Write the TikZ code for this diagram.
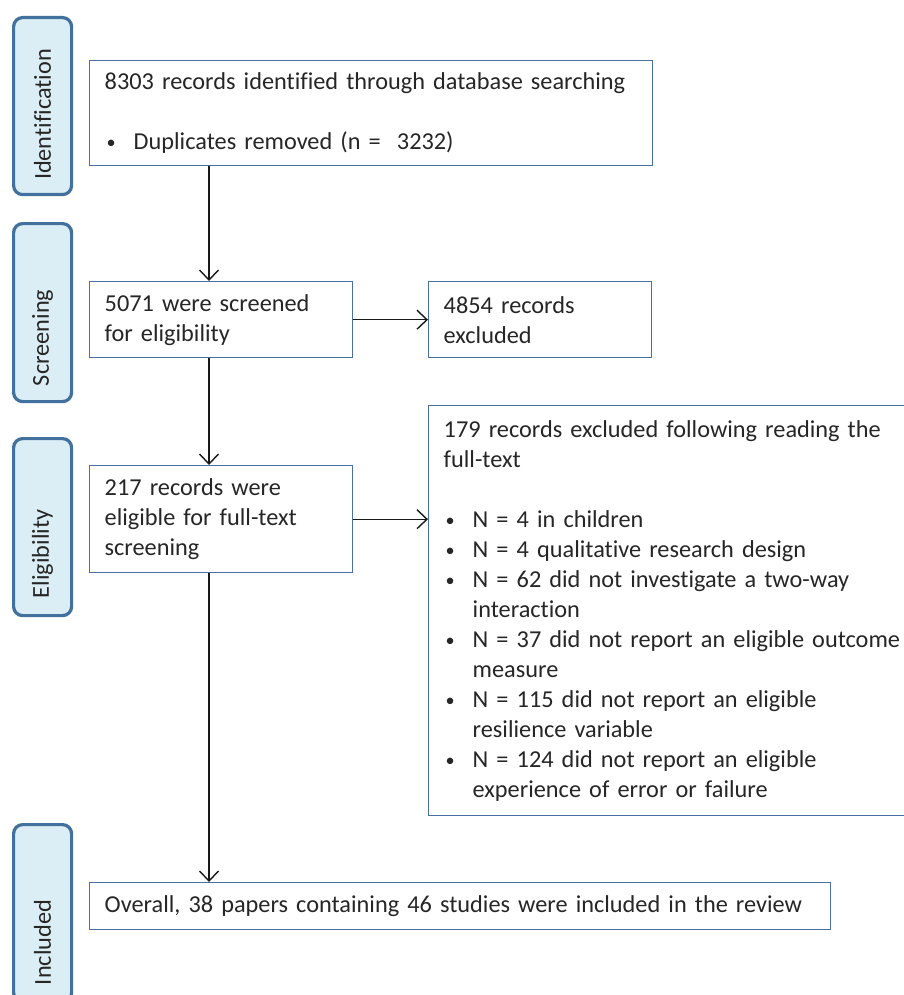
\documentclass[tikz,border=0pt]{standalone}
\usepackage{fontspec}
\setmainfont{Carlito}[Ligatures={NoCommon}]
\usetikzlibrary{arrows.meta,calc}
\definecolor{stageblue}{HTML}{41719C}
\definecolor{stagefill}{HTML}{DCEEF5}
\definecolor{boxblue}{HTML}{4A6FA5}
\tikzset{
  stage/.style={draw=stageblue, line width=3.2pt, fill=stagefill, rounded corners=9pt,
    anchor=north west, minimum width=58pt, inner sep=0pt},
  stagetext/.style={rotate=90, anchor=west, inner sep=0pt,
    font=\fontsize{24.3}{28}\selectfont, text=black!85},
  flowbox/.style={draw=boxblue, line width=1.4pt, fill=white, anchor=north west,
    inner xsep=15pt, inner ysep=0pt, align=left,
    font=\fontsize{24.3}{30}\selectfont, text=black!85},
  arr/.style={-{Straight Barb[length=10pt,width=19pt]}, line width=1.4pt, black!90}
}
\newcommand{\bul}{\raisebox{1pt}{\scalebox{0.75}{\textbullet}}}
\newcommand{\bl}[1]{\makebox[27pt][l]{\bul}#1}
\newcommand{\cn}[1]{\hspace*{27pt}#1}
\begin{document}
\begin{tikzpicture}[x=1pt,y=-1pt]
\useasboundingbox (0,0) rectangle (904,995);
\clip (0,0) rectangle (904,995);
% stage labels
\node[stage, minimum height=177pt] (sid) at (12,16) {};
\node[stagetext] (tid) at ($(sid.south)+(0,-16)$) {Identification};
\node[stage, minimum height=178pt] (sscr) at (12,222) {};
\node[stagetext] (tscr) at ($(sscr.south)+(0,-17)$) {Screening};
\node[stage, minimum height=177pt] (sel) at (12,437) {};
\node[stagetext] (tel) at ($(sel.south)+(0,-19)$) {Eligibility};
\node[stage, minimum height=177pt] (sinc) at (12,823) {};
\node[stagetext] (tinc) at ($(sinc.south)+(0,-18)$) {Included};
% flow boxes
\node[flowbox, text width=533pt, minimum height=105pt] (b1) at (89,60)
  {8303 records identified through database searching\\[30pt]
   \hspace*{2pt}\makebox[27pt][l]{\bul}Duplicates removed (n =~ 3232)};
\node[flowbox, text width=233pt, minimum height=76pt] (b2) at (89,281)
  {5071 were screened\\for eligibility};
\node[flowbox, text width=193pt, minimum height=76pt] (b3) at (428,281)
  {4854 records\\excluded};
\node[flowbox, text width=233pt, minimum height=107pt] (b4) at (89,465)
  {217 records were\\eligible for full-text\\screening};
\node[flowbox, text width=480pt, minimum height=410pt] (b5) at (428,405)
  {179 records excluded following reading the\\full-text\\[30pt]
   \hspace*{2pt}\bl{N = 4 in children}\\
   \hspace*{2pt}\bl{N = 4 qualitative research design}\\
   \hspace*{2pt}\bl{N = 62 did not investigate a two-way}\\
   \hspace*{2pt}\cn{interaction}\\
   \hspace*{2pt}\bl{N = 37 did not report an eligible outcome}\\
   \hspace*{2pt}\cn{measure}\\
   \hspace*{2pt}\bl{N = 115 did not report an eligible}\\
   \hspace*{2pt}\cn{resilience variable}\\
   \hspace*{2pt}\bl{N = 124 did not report an eligible}\\
   \hspace*{2pt}\cn{experience of error or failure}};
\node[flowbox, text width=711pt, minimum height=47pt] (b6) at (89,882)
  {Overall, 38 papers containing 46 studies were included in the review};
% connectors
\coordinate (cx) at (209,0);
\draw[arr] (b1.south -| cx) -- (b2.north -| cx);
\draw[arr] (b2.south -| cx) -- (b4.north -| cx);
\draw[arr] (b4.south -| cx) -- (b6.north -| cx);
\draw[arr] (b2.east) -- (b3.west);
\draw[arr] (b4.east) -- (b4.east -| b5.west);
\end{tikzpicture}
\end{document}
